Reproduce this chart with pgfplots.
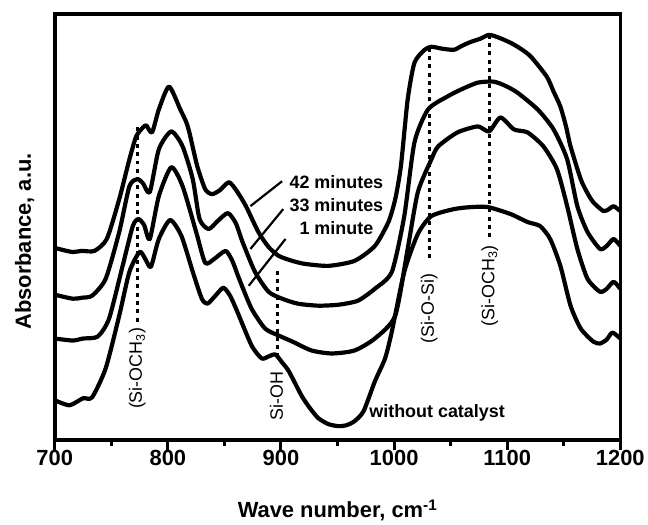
\documentclass[border=0pt]{standalone}
\usepackage{pgfplots}
\pgfplotsset{compat=1.18}
\usepackage{fontspec}
\setmainfont{Liberation Sans}

\tikzset{
  spec/.style={black, line width=4.2pt, smooth, tension=0.4, line join=round, mark=none},
  dotref/.style={black, line width=3pt, dash pattern=on 4pt off 4.3pt},
  lead/.style={black, line width=2.2pt},
  ann/.style={font=\fontsize{18}{20}\selectfont\bfseries},
  band/.style={font=\fontsize{18}{20}\selectfont, rotate=90},
}

\begin{document}
\begin{tikzpicture}
\begin{axis}[
  scale only axis, width=568pt, height=428pt,
  xmin=700, xmax=1200, ymin=0, ymax=428,
  axis line style={line width=3.6pt},
  xtick={700,800,...,1200},
  xticklabels={700,800,900,1000,1100,1200},
  minor x tick num=1,
  xtick pos=left, ytick=\empty,
  tick align=outside,
  major tick length=10pt, minor tick length=6pt,
  every tick/.style={black, line width=3pt},
  xticklabel style={font=\fontsize{22}{26}\selectfont\bfseries, yshift=3pt},
  xlabel={Wave number, cm\textsuperscript{-1}},
  xlabel style={font=\fontsize{22}{26}\selectfont\bfseries,
    at={(axis description cs:0.5,0)}, anchor=base, yshift=-78pt},
  ylabel={Absorbance, a.u.},
  ylabel style={font=\fontsize{22}{26}\selectfont\bfseries,
    at={(axis description cs:-0.0423,0.466)}, anchor=base},
  clip=false,
]
% 42 minutes
\addplot[spec] table {
700 193
715 189
724 190
735 190
746 202
757 242
766 282
772 305
778 314
781 316
786 309
792 332
801 355
811 332
816 320
819 309
826 275
833 252
839 247
846 251
854 259
861 250
869 235
880 209
889 194
898 185
910 180
921 177
942 175
965 180
983 195
995 219
1001 242
1006 275
1012 342
1018 379
1027 392
1033 395
1043 393
1053 392
1060 396
1068 400
1076 403
1084 407
1093 404
1103 399
1112 393
1121 385
1135 365
1141 350
1147 335
1152 315
1156 295
1165 262
1171 248
1176 239
1185 230
1190 232
1194 235
1200 230
};
% 33 minutes
\addplot[spec] table {
700 146
716 142
724 143
733 145
745 162
757 209
766 255
773 262
778 258
784 249
792 292
803 310
813 295
822 262
828 222
836 212
844 220
853 228
860 218
866 199
877 169
889 149
901 142
915 137
933 135
951 136
968 140
983 152
998 169
1009 225
1018 299
1030 332
1047 345
1059 352
1074 359
1088 360
1098 356
1109 349
1127 332
1141 312
1153 282
1162 235
1171 209
1182 192
1188 195
1194 202
1200 195
};
% 1 minute
\addplot[spec] table {
700 102
716 100
725 102
738 104
748 122
760 175
769 215
774 222
779 216
784 202
792 245
803 274
813 255
825 209
833 178
841 182
851 190
857 180
863 162
874 132
886 112
898 105
910 99
927 90
945 87
965 90
983 102
1001 125
1012 192
1021 249
1033 282
1039 295
1056 309
1074 315
1084 310
1094 324
1106 312
1118 309
1132 295
1144 272
1153 235
1162 192
1171 162
1182 149
1188 152
1194 159
1200 152
};
% without catalyst
\addplot[spec] table {
700 40
713 35
725 42
733 43
745 72
757 125
766 169
775 189
780 182
785 174
792 202
802 221
812 205
822 169
830 142
835 137
842 145
849 153
855 145
861 130
874 95
883 82
889 84
895 86
901 78
907 69
918 45
925 33
933 22
942 16
951 14
958 15
965 19
973 29
983 59
992 82
998 109
1009 169
1021 207
1033 225
1053 232
1068 234
1083 234
1103 227
1118 219
1129 215
1138 202
1147 175
1156 135
1165 112
1176 99
1182 97
1188 101
1193 108
1200 102
};
% band markers
\draw[dotref] (axis cs:773,314) -- (axis cs:773,117);
\draw[dotref] (axis cs:897,170) -- (axis cs:897,79);
\draw[dotref] (axis cs:1031,394) -- (axis cs:1031,180);
\draw[dotref] (axis cs:1084.5,407) -- (axis cs:1084.5,200);
\node[band] at (axis cs:773,72) {(Si-OCH\textsubscript{3})};
\node[band] at (axis cs:896,44) {Si-OH};
\node[band] at (axis cs:1031,132) {(Si-O-Si)};
\node[band] at (axis cs:1084.5,155) {(Si-OCH\textsubscript{3})};
% curve labels
\node[ann] at (axis cs:949,259) {42 minutes};
\node[ann] at (axis cs:949,236) {33 minutes};
\node[ann] at (axis cs:949,213) {1 minute};
\node[ann] at (axis cs:1038,27) {without catalyst};
\draw[lead] (axis cs:901,260) -- (axis cs:873,235);
\draw[lead] (axis cs:902,232) -- (axis cs:873,192);
\draw[lead] (axis cs:904,202) -- (axis cs:871.5,155);
\end{axis}
\path (current axis.south west) ++(-55pt,-82pt)
      (current axis.north east) ++(25pt,14pt);
\end{tikzpicture}
\end{document}
